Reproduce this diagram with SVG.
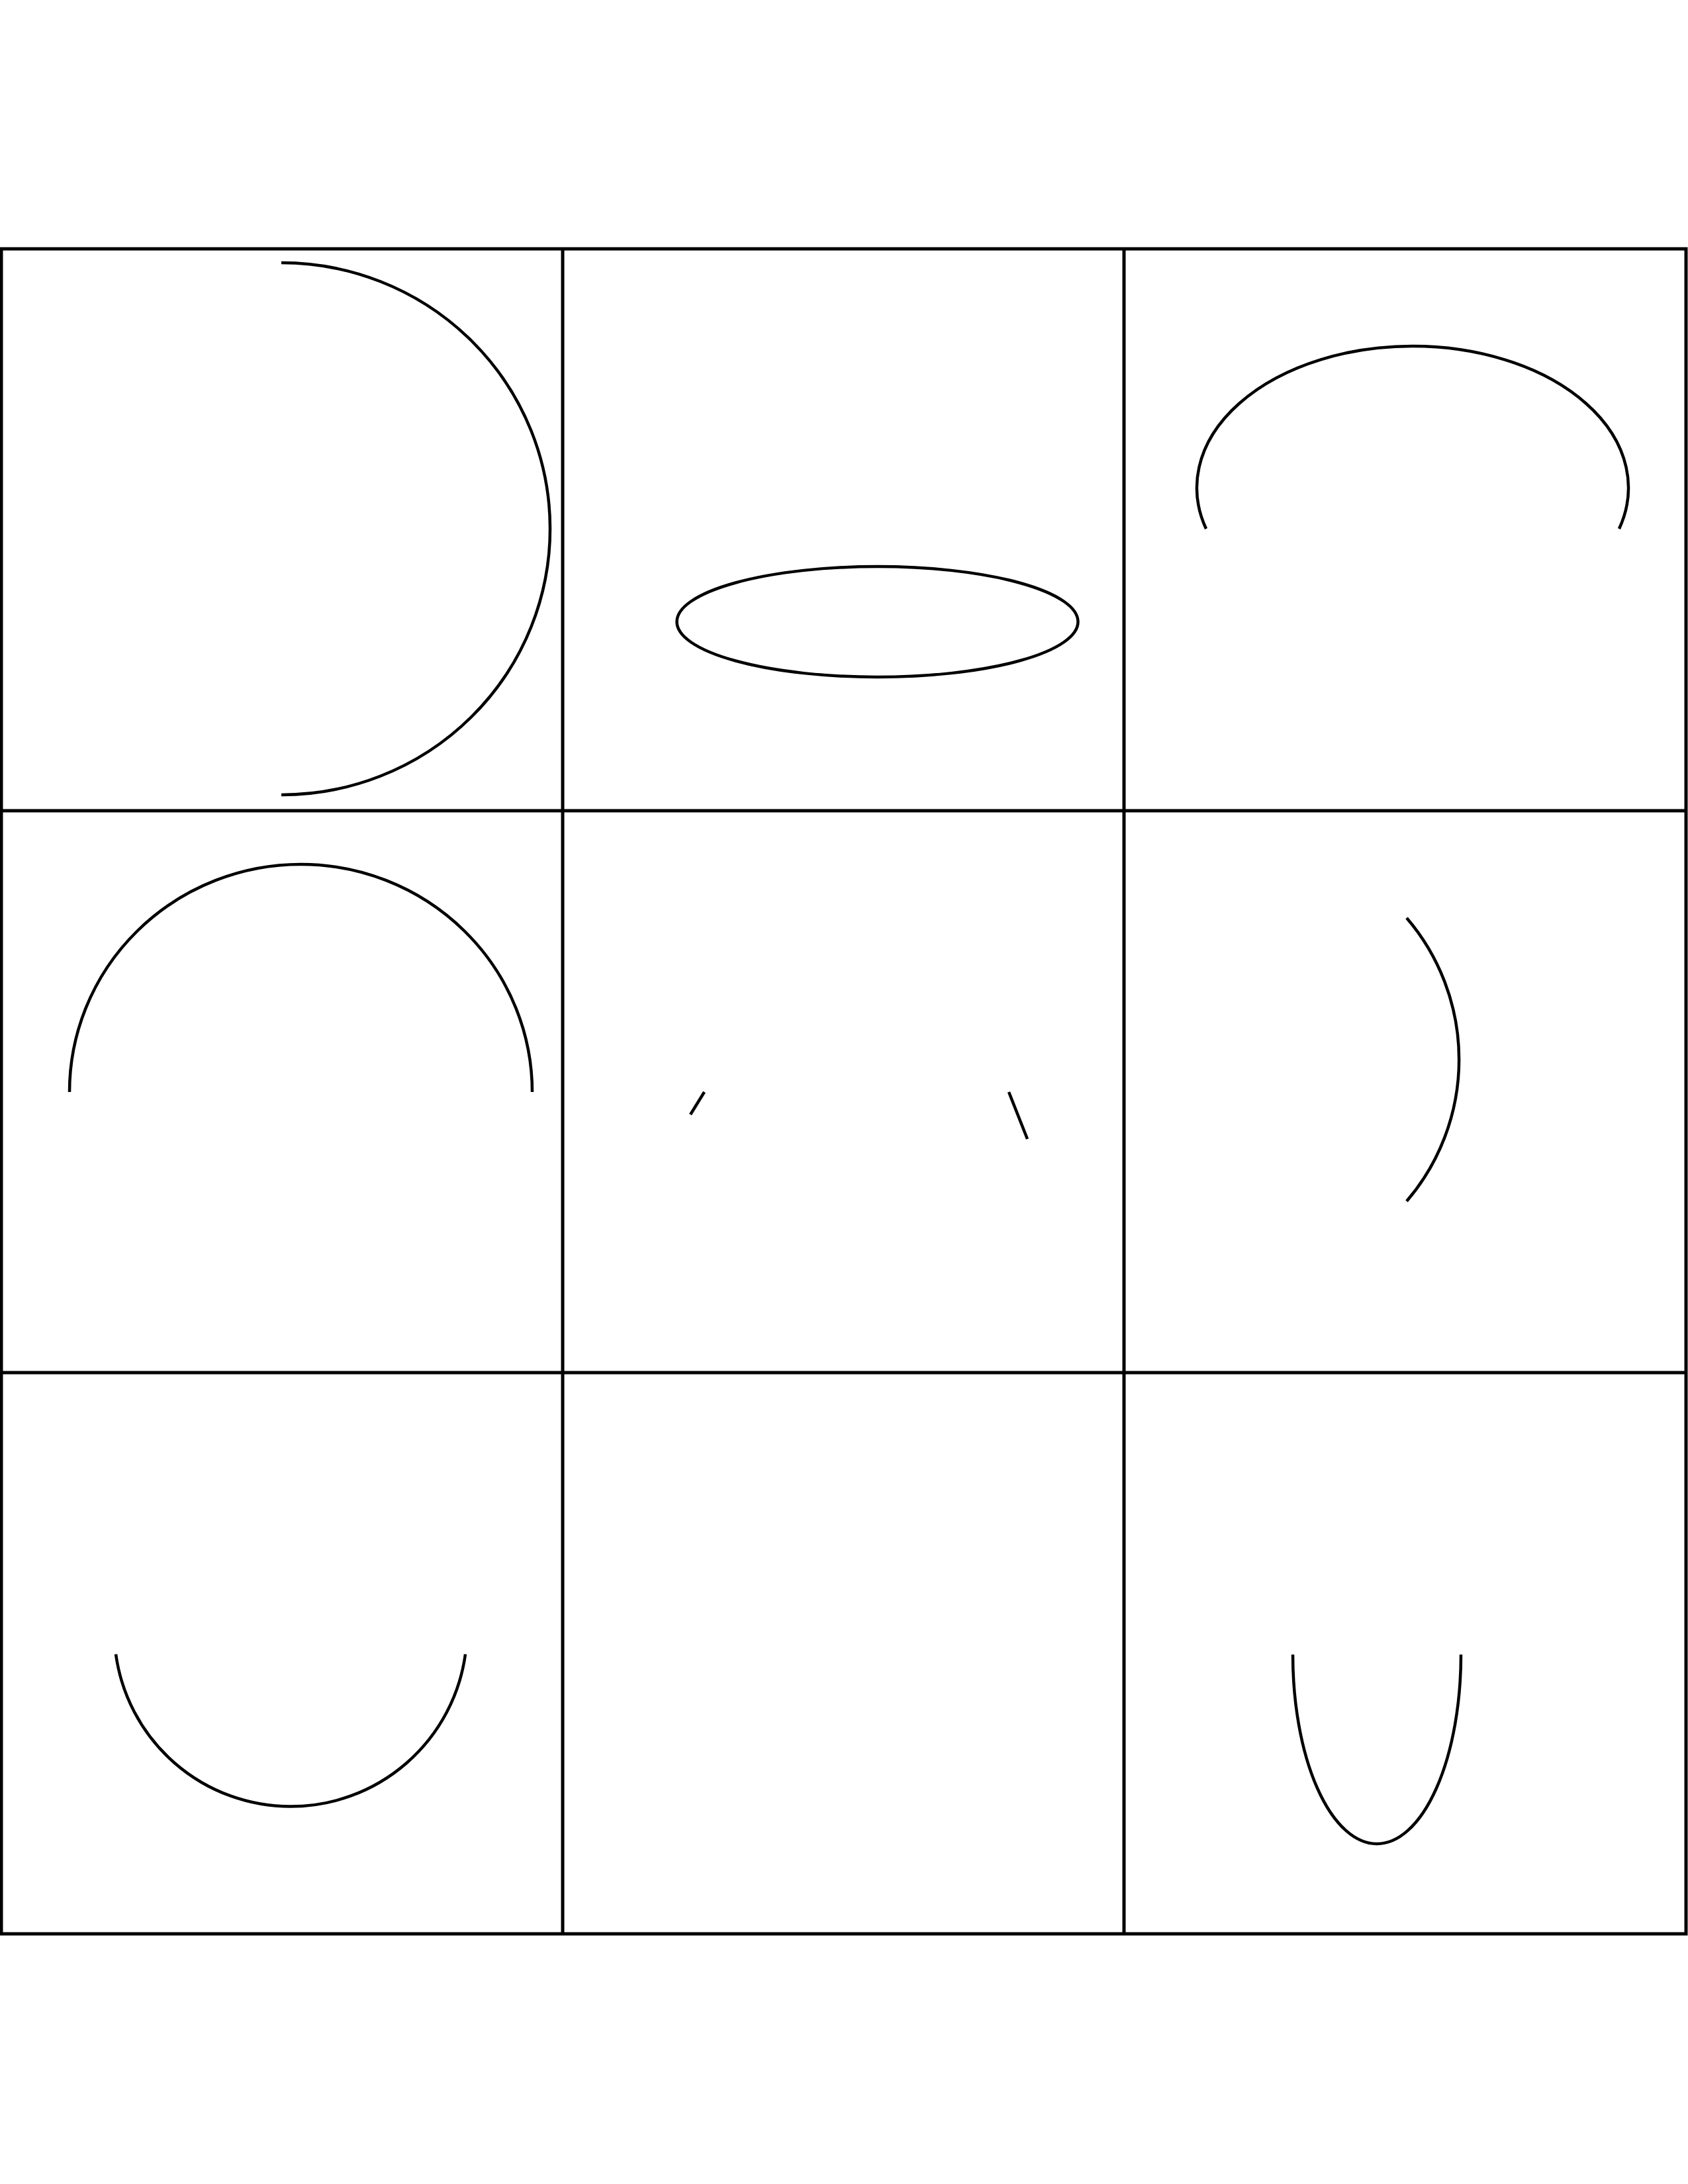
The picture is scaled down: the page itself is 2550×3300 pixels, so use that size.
<svg xmlns="http://www.w3.org/2000/svg" width="2550" height="3300" viewBox="0 0 2550 3300">
<style>
.grid{fill:none;stroke:#000;stroke-width:5}
.c{fill:none;stroke:#000;stroke-width:4.5}
</style>
<rect x="0" y="0" width="2550" height="3300" fill="#fff"/>
<g id="grid">
<rect class="grid" x="2" y="376" width="2545" height="2546"/>
<line class="grid" x1="850" y1="376" x2="850" y2="2922"/>
<line class="grid" x1="1698" y1="376" x2="1698" y2="2922"/>
<line class="grid" x1="2" y1="1225" x2="2547" y2="1225"/>
<line class="grid" x1="2" y1="2074" x2="2547" y2="2074"/>
</g>
<g id="cell1"><path class="c" d="M 425 397 A 406 402 0 0 1 425 1201"/></g>
<g id="cell2"><ellipse class="c" cx="1325.5" cy="939.5" rx="303" ry="83.5"/></g>
<g id="cell3"><path class="c" d="M 1822 799 A 326 214 0 1 1 2446 799"/></g>
<g id="cell4"><path class="c" d="M 105 1650 A 349.5 344 0 0 1 804 1650"/></g>
<g id="cell5">
<line class="c" x1="1064" y1="1650" x2="1043" y2="1684"/>
<line class="c" x1="1524" y1="1650" x2="1552" y2="1721"/>
</g>
<g id="cell6"><path class="c" d="M 2125 1387 A 329 329 0 0 1 2125 1815"/></g>
<g id="cell7"><path class="c" d="M 175 2499.5 A 266.5 266.5 0 0 0 703 2499.5"/></g>
<g id="cell9"><path class="c" d="M 1953 2500 A 127 286 0 0 0 2207 2500"/></g>
</svg>
